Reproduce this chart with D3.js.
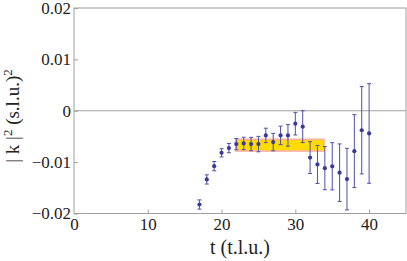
<!DOCTYPE html>
<html>
<head>
<meta charset="utf-8">
<script src="https://cdn.jsdelivr.net/npm/d3@7"></script>
<style>
  body { margin: 0; background: #fff; }
  svg { display: block; }
</style>
</head>
<body>
<svg width="407" height="261"></svg>
<script>
// time in lattice units
var times = [17, 18, 19, 20, 21, 22, 23, 24, 25, 26, 27, 28, 29, 30, 31, 32, 33, 34, 35, 36, 37, 38, 39, 40];
var kSquared = [-0.01825, -0.01337, -0.01078, -0.00819, -0.00727, -0.00649, -0.00636, -0.00649, -0.00649, -0.0048,
                -0.0061, -0.0048, -0.0048, -0.00252, -0.0031, -0.00912, -0.01045, -0.01117, -0.01081, -0.01205,
                -0.0133, -0.00786, -0.0038, -0.00442];
var kErrors = [0.0009, 0.0009, 0.0009, 0.0008, 0.0009, 0.0011, 0.0012, 0.0013, 0.0015, 0.0014,
               0.0017, 0.0018, 0.0021, 0.0022, 0.0031, 0.0031, 0.0037, 0.0042, 0.0046, 0.0056,
               0.006, 0.0071, 0.0085, 0.0097];

// fit band: [t start, t end], central value, outer and inner half widths
var fitRange = [21.8, 34];
var fitValue = -0.0067;
var fitOuter = 0.0013;
var fitInner = 0.00097;

var xTicks = [0, 10, 20, 30, 40];
var yTicks = [-0.02, -0.01, 0, 0.01, 0.02];

var data = times.map((t, i) => ({ t: t, v: kSquared[i], e: kErrors[i] }));

var x = d3.scaleLinear().domain([0, 45]).range([74, 406]);
var y = d3.scaleLinear().domain([-0.02, 0.02]).range([213.5, 8]);

var serif = ["Liberation", "Serif"].join(" ");
var svg = d3.select("svg");
var g = svg.append("g");

// fit band
g.append("rect")
  .attr("x", x(fitRange[0]))
  .attr("width", x(fitRange[1]) - x(fitRange[0]))
  .attr("y", y(fitValue + fitOuter))
  .attr("height", y(fitValue - fitOuter) - y(fitValue + fitOuter))
  .attr("fill", "#f9b3a3");
g.append("rect")
  .attr("x", x(fitRange[0] + 0.25))
  .attr("width", x(fitRange[1] - 0.25) - x(fitRange[0] + 0.25))
  .attr("y", y(fitValue + fitInner))
  .attr("height", y(fitValue - fitInner) - y(fitValue + fitInner))
  .attr("fill", "#ffdc00");

// zero line
g.append("line")
  .attr("x1", x(0)).attr("x2", x(45))
  .attr("y1", y(0)).attr("y2", y(0))
  .attr("stroke", "#a0a0a0").attr("stroke-width", 1);

// frame
g.append("rect")
  .attr("x", x(0)).attr("y", y(0.02))
  .attr("width", x(45) - x(0)).attr("height", y(-0.02) - y(0.02))
  .attr("fill", "none").attr("stroke", "#a0a0a0").attr("stroke-width", 1);

// axes
var yAxis = g.append("g")
  .attr("transform", "translate(" + x(0) + ",0)")
  .call(d3.axisRight(y).tickValues(yTicks).tickSize(4).tickFormat(""));
yAxis.select(".domain").remove();
yAxis.selectAll("line").attr("stroke", "#a0a0a0");

var yLabels = g.append("g")
  .attr("transform", "translate(" + x(0) + ",0)")
  .call(d3.axisLeft(y).tickValues(yTicks).tickSize(0).tickPadding(3)
    .tickFormat(d => d === 0 ? "0" : d3.format(".2f")(d).replace("-", "\u2212")));
yLabels.select(".domain").remove();
yLabels.attr("font-size", 17);

var xAxis = g.append("g")
  .attr("transform", "translate(0," + y(-0.02) + ")")
  .call(d3.axisTop(x).tickValues(xTicks.slice(1)).tickSize(4).tickFormat(""));
xAxis.select(".domain").remove();
xAxis.selectAll("line").attr("stroke", "#a0a0a0");

var xLabels = g.append("g")
  .attr("transform", "translate(0," + y(-0.02) + ")")
  .call(d3.axisBottom(x).tickValues(xTicks).tickSize(0).tickPadding(4).tickFormat(d3.format("d")));
xLabels.select(".domain").remove();
xLabels.attr("font-size", 17);

// axis titles
svg.append("text")
  .attr("x", 240).attr("y", 254)
  .attr("text-anchor", "middle")
  .attr("font-size", 20)
  .text("t (t.l.u.)");

var yt = svg.append("text")
  .attr("transform", "translate(19,116) rotate(-90)")
  .attr("text-anchor", "middle")
  .attr("font-size", 19);
yt.append("tspan").text("| k |");
yt.append("tspan").attr("dy", -7).attr("font-size", 13).text("2");
yt.append("tspan").attr("dy", 7).text(" (s.l.u.)");
yt.append("tspan").attr("dy", -7).attr("font-size", 13).text("2");

// all labels in the serif face
svg.selectAll("text").each(function () {
  this.style.setProperty("font-family", serif, "important");
  this.style.setProperty("fill", "#222");
});

// error bars
var bars = g.selectAll(".err")
  .data(data)
  .enter().append("g")
    .attr("class", "err")
    .attr("stroke", "#5050aa")
    .attr("stroke-width", 1);
bars.append("line")
  .attr("x1", d => x(d.t)).attr("x2", d => x(d.t))
  .attr("y1", d => y(d.v + d.e)).attr("y2", d => y(d.v - d.e));
bars.append("line")
  .attr("x1", d => x(d.t) - 2).attr("x2", d => x(d.t) + 2)
  .attr("y1", d => y(d.v + d.e)).attr("y2", d => y(d.v + d.e));
bars.append("line")
  .attr("x1", d => x(d.t) - 2).attr("x2", d => x(d.t) + 2)
  .attr("y1", d => y(d.v - d.e)).attr("y2", d => y(d.v - d.e));

// points
g.selectAll(".pt")
  .data(data)
  .enter().append("circle")
    .attr("class", "pt")
    .attr("cx", d => x(d.t))
    .attr("cy", d => y(d.v))
    .attr("r", 2.1)
    .attr("fill", "#3a3a9e");
</script>
</body>
</html>
